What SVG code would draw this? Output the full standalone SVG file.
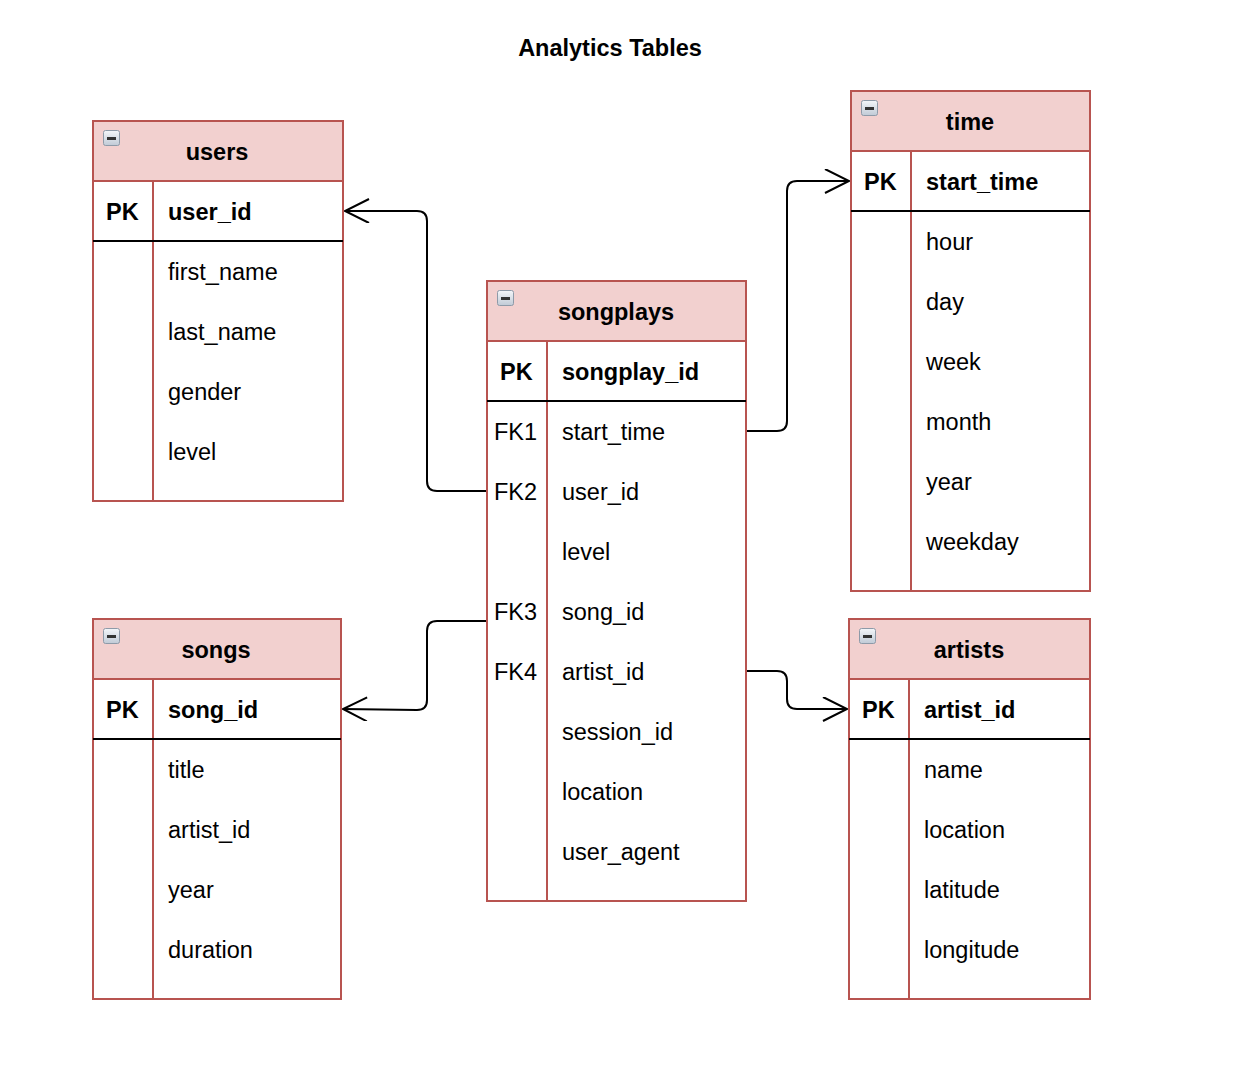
<svg xmlns="http://www.w3.org/2000/svg" width="1248" height="1082" viewBox="0 0 1248 1082">
<style>
.frame{fill:#ffffff;stroke:#b85450;stroke-width:2}
.head{fill:#f2d0cf;stroke:#b85450;stroke-width:2}
.div{stroke:#b85450;stroke-width:2}
.sep{stroke:#000000;stroke-width:2}
text{font-family:"Liberation Sans",Arial,Helvetica,sans-serif;font-size:23.5px;fill:#000}
.b{font-weight:bold}
.c{text-anchor:middle}
.conn{fill:none;stroke:#000;stroke-width:2}
.icon{fill:url(#ig);stroke:#8e9aa8;stroke-width:1}
</style>
<defs>
<linearGradient id="ig" x1="0" y1="0" x2="0" y2="1">
<stop offset="0" stop-color="#f4f6f9"/>
<stop offset="1" stop-color="#c0cad6"/>
</linearGradient>
<marker id="arr" markerWidth="30" markerHeight="30" refX="25" refY="12" orient="auto" markerUnits="userSpaceOnUse">
<path d="M1,0 L25,12 L1,24" fill="none" stroke="#000" stroke-width="2"/>
</marker>
<g id="ico"><rect class="icon" x="0.5" y="0.5" width="16" height="15" rx="2"/><rect x="4" y="7" width="9" height="3" fill="#333"/></g>
</defs>

<text class="b c" x="610" y="56">Analytics Tables</text>

<g id="connectors">
<path class="conn" d="M487,491 L437,491 Q427,491 427,481 L427,221 Q427,211 417,211 L345,211" marker-end="url(#arr)"/>
<path class="conn" d="M746,431 L777,431 Q787,431 787,421 L787,191 Q787,181 797,181 L849,181" marker-end="url(#arr)"/>
<path class="conn" d="M487,621 L437,621 Q427,621 427,631 L427,700 Q427,710 417,710 L343,709" marker-end="url(#arr)"/>
<path class="conn" d="M746,671 L777,671 Q787,671 787,681 L787,699 Q787,709 797,709 L847,709" marker-end="url(#arr)"/>
</g>

<g id="users">
<rect class="frame" x="93" y="121" width="250" height="380"/>
<rect class="head" x="93" y="121" width="250" height="60"/>
<use href="#ico" x="103" y="130"/>
<line class="div" x1="153" y1="181" x2="153" y2="501"/>
<line class="sep" x1="93" y1="241" x2="343" y2="241"/>
<text class="b c" x="217" y="160">users</text>
<text class="b" x="106" y="220">PK</text>
<text class="b" x="168" y="220">user_id</text>
<text x="168" y="280">first_name</text>
<text x="168" y="340">last_name</text>
<text x="168" y="400">gender</text>
<text x="168" y="460">level</text>
</g>

<g id="time">
<rect class="frame" x="851" y="91" width="239" height="500"/>
<rect class="head" x="851" y="91" width="239" height="60"/>
<use href="#ico" x="861" y="100"/>
<line class="div" x1="911" y1="151" x2="911" y2="591"/>
<line class="sep" x1="851" y1="211" x2="1090" y2="211"/>
<text class="b c" x="970" y="130">time</text>
<text class="b" x="864" y="190">PK</text>
<text class="b" x="926" y="190">start_time</text>
<text x="926" y="250">hour</text>
<text x="926" y="310">day</text>
<text x="926" y="370">week</text>
<text x="926" y="430">month</text>
<text x="926" y="490">year</text>
<text x="926" y="550">weekday</text>
</g>

<g id="songplays">
<rect class="frame" x="487" y="281" width="259" height="620"/>
<rect class="head" x="487" y="281" width="259" height="60"/>
<use href="#ico" x="497" y="290"/>
<line class="div" x1="547" y1="341" x2="547" y2="901"/>
<line class="sep" x1="487" y1="401" x2="746" y2="401"/>
<text class="b c" x="616" y="320">songplays</text>
<text class="b" x="500" y="380">PK</text>
<text class="b" x="562" y="380">songplay_id</text>
<text x="494" y="440">FK1</text>
<text x="562" y="440">start_time</text>
<text x="494" y="500">FK2</text>
<text x="562" y="500">user_id</text>
<text x="562" y="560">level</text>
<text x="494" y="620">FK3</text>
<text x="562" y="620">song_id</text>
<text x="494" y="680">FK4</text>
<text x="562" y="680">artist_id</text>
<text x="562" y="740">session_id</text>
<text x="562" y="800">location</text>
<text x="562" y="860">user_agent</text>
</g>

<g id="songs">
<rect class="frame" x="93" y="619" width="248" height="380"/>
<rect class="head" x="93" y="619" width="248" height="60"/>
<use href="#ico" x="103" y="628"/>
<line class="div" x1="153" y1="679" x2="153" y2="999"/>
<line class="sep" x1="93" y1="739" x2="341" y2="739"/>
<text class="b c" x="216" y="658">songs</text>
<text class="b" x="106" y="718">PK</text>
<text class="b" x="168" y="718">song_id</text>
<text x="168" y="778">title</text>
<text x="168" y="838">artist_id</text>
<text x="168" y="898">year</text>
<text x="168" y="958">duration</text>
</g>

<g id="artists">
<rect class="frame" x="849" y="619" width="241" height="380"/>
<rect class="head" x="849" y="619" width="241" height="60"/>
<use href="#ico" x="859" y="628"/>
<line class="div" x1="909" y1="679" x2="909" y2="999"/>
<line class="sep" x1="849" y1="739" x2="1090" y2="739"/>
<text class="b c" x="969" y="658">artists</text>
<text class="b" x="862" y="718">PK</text>
<text class="b" x="924" y="718">artist_id</text>
<text x="924" y="778">name</text>
<text x="924" y="838">location</text>
<text x="924" y="898">latitude</text>
<text x="924" y="958">longitude</text>
</g>
</svg>
